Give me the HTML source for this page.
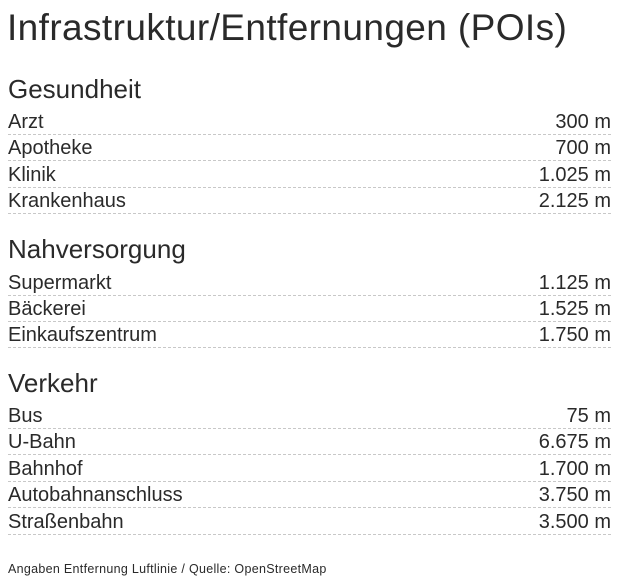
<!DOCTYPE html>
<html><head><meta charset="utf-8"><style>
body{margin:0;width:628px;height:583px;background:#fff;position:relative;font-family:"Liberation Sans",sans-serif;color:#2a2a2a;overflow:hidden}
.t{position:absolute;left:7px;top:6px;font-size:37px;line-height:44px;letter-spacing:0.4px;color:#2a2a2a;white-space:nowrap}
.h{position:absolute;left:8px;font-size:26px;line-height:30px;white-space:nowrap}
.r{position:absolute;left:8px;width:603px;height:26px;border-bottom:1px dashed #c8c8c8;font-size:20px;line-height:28px}
.r span:last-child{position:absolute;right:0;top:0}
.f{position:absolute;left:8px;top:561px;font-size:12.5px;line-height:16px;letter-spacing:0.3px}
</style></head><body>
<div class="t">Infrastruktur/Entfernungen (POIs)</div>
<div class="h" style="top:74px">Gesundheit</div>
<div class="r" style="top:108px"><span>Arzt</span><span>300 m</span></div>
<div class="r" style="top:134px"><span>Apotheke</span><span>700 m</span></div>
<div class="r" style="top:161px"><span>Klinik</span><span>1.025 m</span></div>
<div class="r" style="top:187px"><span>Krankenhaus</span><span>2.125 m</span></div>
<div class="h" style="top:234px">Nahversorgung</div>
<div class="r" style="top:269px"><span>Supermarkt</span><span>1.125 m</span></div>
<div class="r" style="top:295px"><span>Bäckerei</span><span>1.525 m</span></div>
<div class="r" style="top:321px"><span>Einkaufszentrum</span><span>1.750 m</span></div>
<div class="h" style="top:368px">Verkehr</div>
<div class="r" style="top:402px"><span>Bus</span><span>75 m</span></div>
<div class="r" style="top:428px"><span>U-Bahn</span><span>6.675 m</span></div>
<div class="r" style="top:455px"><span>Bahnhof</span><span>1.700 m</span></div>
<div class="r" style="top:481px"><span>Autobahnanschluss</span><span>3.750 m</span></div>
<div class="r" style="top:508px"><span>Straßenbahn</span><span>3.500 m</span></div>
<div class="f">Angaben Entfernung Luftlinie / Quelle: OpenStreetMap</div>
</body></html>
